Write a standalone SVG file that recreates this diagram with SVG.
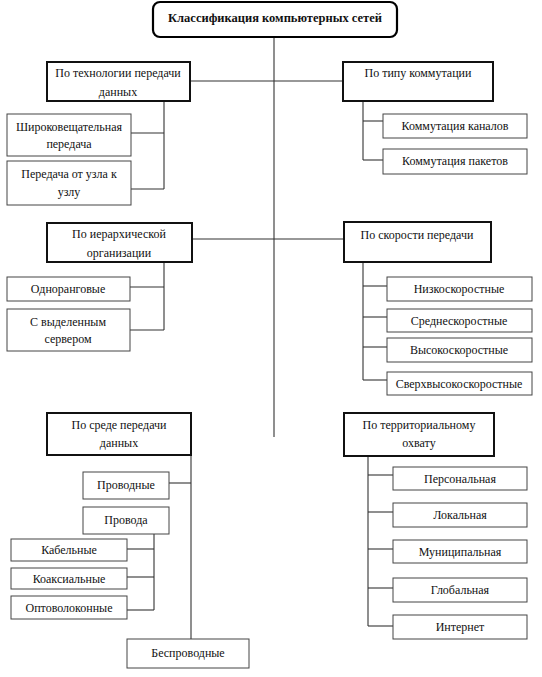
<svg xmlns="http://www.w3.org/2000/svg" width="542" height="677" viewBox="0 0 542 677" font-family="Liberation Serif, serif">
<style>
text{font-size:12px;fill:#111;text-anchor:middle}
.root{fill:#fff;stroke:#000;stroke-width:2.2}
.root-t{font-weight:bold;font-size:12.5px}
.cat{fill:#fff;stroke:#111;stroke-width:2}
.leaf{fill:#fff;stroke:#444;stroke-width:1}
.con line{stroke:#333;stroke-width:1.1}
</style>
<rect width="542" height="677" fill="#fff"/>
<g class="con">
<line x1="274" y1="37" x2="274" y2="437"/>
<line x1="190" y1="81" x2="343" y2="81"/>
<line x1="164" y1="101" x2="164" y2="189"/>
<line x1="131" y1="133" x2="164" y2="133"/>
<line x1="131" y1="189" x2="164" y2="189"/>
<line x1="363" y1="101" x2="363" y2="160"/>
<line x1="363" y1="121" x2="383" y2="121"/>
<line x1="363" y1="160" x2="383" y2="160"/>
<line x1="192" y1="239" x2="344" y2="239"/>
<line x1="164" y1="262" x2="164" y2="330"/>
<line x1="130" y1="287" x2="164" y2="287"/>
<line x1="130" y1="330" x2="164" y2="330"/>
<line x1="363" y1="262" x2="363" y2="380"/>
<line x1="363" y1="286" x2="387" y2="286"/>
<line x1="363" y1="317" x2="387" y2="317"/>
<line x1="363" y1="347" x2="387" y2="347"/>
<line x1="363" y1="380" x2="387" y2="380"/>
<line x1="191" y1="455" x2="191" y2="639"/>
<line x1="169" y1="483" x2="191" y2="483"/>
<line x1="154" y1="534" x2="154" y2="610"/>
<line x1="127" y1="549" x2="154" y2="549"/>
<line x1="127" y1="577" x2="154" y2="577"/>
<line x1="127" y1="610" x2="154" y2="610"/>
<line x1="368" y1="456" x2="368" y2="626"/>
<line x1="368" y1="475" x2="393" y2="475"/>
<line x1="368" y1="512" x2="393" y2="512"/>
<line x1="368" y1="549" x2="393" y2="549"/>
<line x1="368" y1="588" x2="393" y2="588"/>
<line x1="368" y1="626" x2="393" y2="626"/>
</g>
<g id="root"><rect class="root" x="153" y="2" width="244" height="35" rx="7"/><text class="root-t" x="275" y="22">Классификация компьютерных сетей</text></g>
<g id="tech"><rect class="cat" x="47" y="62" width="143" height="39"/><text x="118" y="77">По технологии передачи</text><text x="118" y="96">данных</text></g>
<g id="broadcast"><rect class="leaf" x="7" y="114" width="124" height="42"/><text x="69" y="131">Широковещательная</text><text x="69" y="148">передача</text></g>
<g id="p2p"><rect class="leaf" x="7" y="161" width="124" height="44"/><text x="69" y="178">Передача от узла к</text><text x="69" y="196">узлу</text></g>
<g id="switch"><rect class="cat" x="343" y="62" width="150" height="39"/><text x="418" y="77">По типу коммутации</text></g>
<g id="circuit"><rect class="leaf" x="383" y="114" width="144" height="24"/><text x="455" y="130">Коммутация каналов</text></g>
<g id="packet"><rect class="leaf" x="383" y="149" width="144" height="25"/><text x="455" y="165">Коммутация пакетов</text></g>
<g id="hier"><rect class="cat" x="47" y="223" width="145" height="39"/><text x="119" y="238">По иерархической</text><text x="119" y="257">организации</text></g>
<g id="peer"><rect class="leaf" x="7" y="277" width="123" height="24"/><text x="68" y="293">Одноранговые</text></g>
<g id="server"><rect class="leaf" x="7" y="309" width="123" height="42"/><text x="68" y="326">С выделенным</text><text x="68" y="343">сервером</text></g>
<g id="speed"><rect class="cat" x="344" y="222" width="147" height="40"/><text x="417" y="239">По скорости передачи</text></g>
<g id="low"><rect class="leaf" x="387" y="277" width="145" height="24"/><text x="459" y="293">Низкоскоростные</text></g>
<g id="mid"><rect class="leaf" x="387" y="309" width="145" height="23"/><text x="459" y="325">Среднескоростные</text></g>
<g id="high"><rect class="leaf" x="387" y="338" width="145" height="24"/><text x="459" y="354">Высокоскоростные</text></g>
<g id="ultra"><rect class="leaf" x="387" y="372" width="145" height="23"/><text x="459" y="388">Сверхвысокоскоростные</text></g>
<g id="media"><rect class="cat" x="47" y="413" width="144" height="42"/><text x="119" y="429">По среде передачи</text><text x="119" y="447">данных</text></g>
<g id="wired"><rect class="leaf" x="83" y="472" width="86" height="27"/><text x="126" y="489">Проводные</text></g>
<g id="wires"><rect class="leaf" x="83" y="507" width="86" height="27"/><text x="126" y="524">Провода</text></g>
<g id="cable"><rect class="leaf" x="11" y="539" width="116" height="22"/><text x="69" y="554">Кабельные</text></g>
<g id="coax"><rect class="leaf" x="11" y="568" width="116" height="21"/><text x="69" y="583">Коаксиальные</text></g>
<g id="fiber"><rect class="leaf" x="11" y="596" width="116" height="23"/><text x="69" y="612">Оптоволоконные</text></g>
<g id="wireless"><rect class="leaf" x="127" y="639" width="122" height="29"/><text x="188" y="657">Беспроводные</text></g>
<g id="terr"><rect class="cat" x="344" y="413" width="150" height="43"/><text x="419" y="429">По территориальному</text><text x="419" y="447">охвату</text></g>
<g id="pan"><rect class="leaf" x="393" y="467" width="134" height="23"/><text x="460" y="483">Персональная</text></g>
<g id="lan"><rect class="leaf" x="393" y="503" width="134" height="24"/><text x="460" y="519">Локальная</text></g>
<g id="man"><rect class="leaf" x="393" y="540" width="134" height="23"/><text x="460" y="556">Муниципальная</text></g>
<g id="wan"><rect class="leaf" x="393" y="578" width="134" height="24"/><text x="460" y="594">Глобальная</text></g>
<g id="inet"><rect class="leaf" x="393" y="615" width="134" height="24"/><text x="460" y="631">Интернет</text></g>
</svg>
